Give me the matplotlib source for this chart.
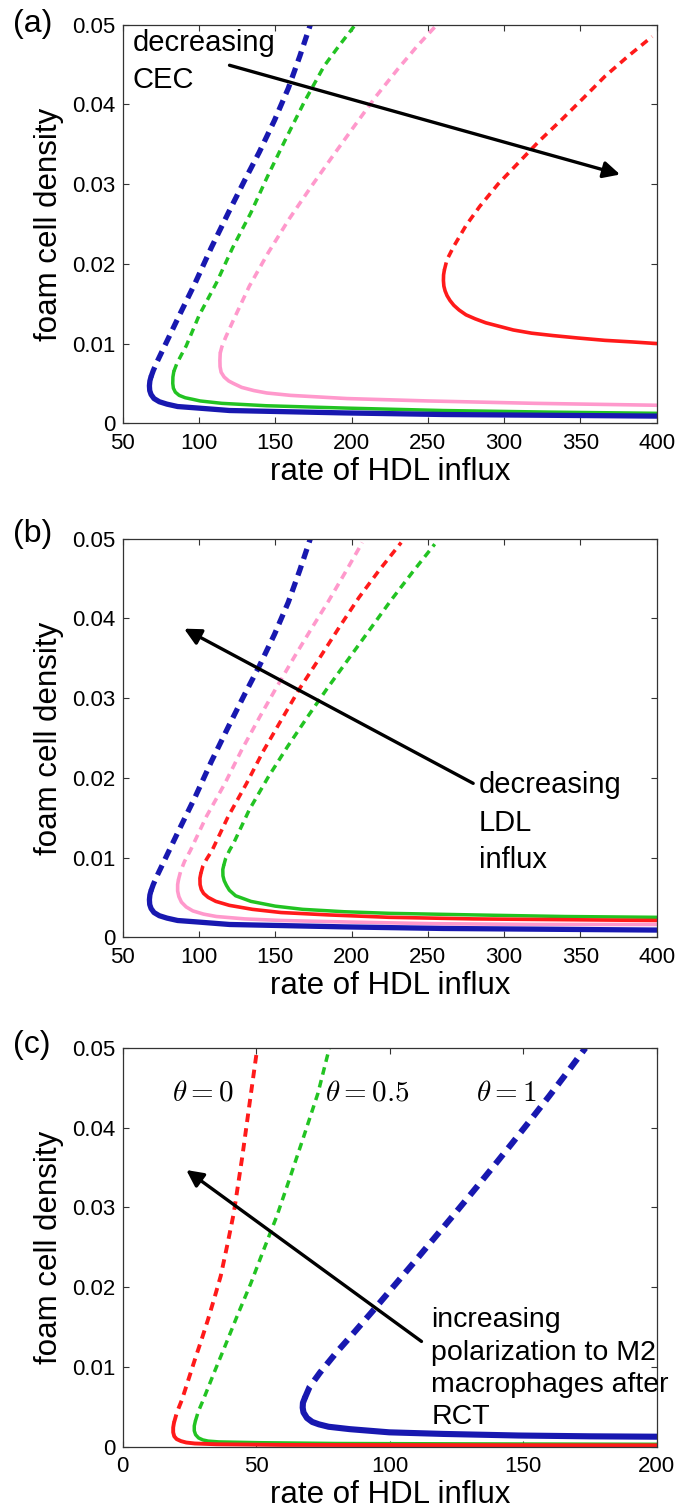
import matplotlib
matplotlib.use("Agg")
import matplotlib.pyplot as plt

plt.rcParams['font.family'] = ['Liberation Sans', 'DejaVu Sans']
plt.rcParams['mathtext.fontset'] = 'cm'

# ---------------- data ----------------
yticks = [0, 0.01, 0.02, 0.03, 0.04, 0.05]
yticklabels = ['0', '0.01', '0.02', '0.03', '0.04', '0.05']
xticks_ab = [50, 100, 150, 200, 250, 300, 350, 400]
xticks_c = [0, 50, 100, 150, 200]

# shared baseline (blue) curve, panels (a) and (b)
blue_up_x = [68.5, 70, 72.5, 77.5, 87, 97.5, 108, 119.5, 130, 139.5, 149.5, 158.5, 166, 173]
blue_up_y = [0.0058, 0.0066, 0.0077, 0.0097, 0.0135, 0.0176, 0.022, 0.0265, 0.0305, 0.034, 0.038, 0.042, 0.046, 0.05]
blue_lo_x = [68.5, 67.8, 67.5, 67.7, 68.6, 70.5, 74, 79, 86, 100, 120, 145, 195, 260, 330, 400]
blue_lo_y = [0.0058, 0.0053, 0.0047, 0.0041, 0.0036, 0.0031, 0.0027, 0.0024, 0.0021, 0.0019, 0.0016, 0.0015, 0.0013, 0.0011, 0.001, 0.0009]

# panel (a)
green_a_up_x = [83.5, 85.5, 88.5, 91.6, 100, 111.4, 122, 134, 145, 156.7, 169, 182, 192, 202.5]
green_a_up_y = [0.0065, 0.0075, 0.0086, 0.0097, 0.0135, 0.0176, 0.022, 0.0264, 0.031, 0.0356, 0.0403, 0.0448, 0.0474, 0.05]
green_a_lo_x = [83.5, 82.9, 82.8, 83.2, 84.5, 87, 91, 96, 100.7, 115, 144, 197, 260, 330, 400]
green_a_lo_y = [0.0065, 0.0058, 0.005, 0.0044, 0.0039, 0.0035, 0.0032, 0.003, 0.0028, 0.0025, 0.0022, 0.0019, 0.0016, 0.0014, 0.00125]
pink_a_up_x = [113.9, 115, 117.5, 122.7, 133, 145.4, 159, 173.6, 188, 201.9, 216, 230.2, 243, 256]
pink_a_up_y = [0.0088, 0.0096, 0.0108, 0.013, 0.0172, 0.0214, 0.0256, 0.0297, 0.0336, 0.0373, 0.041, 0.0444, 0.0473, 0.05]
pink_a_lo_x = [113.9, 113.7, 113.8, 114.5, 116.5, 119.5, 122.5, 128, 136, 144.4, 160, 197, 250, 320, 400]
pink_a_lo_y = [0.0088, 0.0079, 0.0071, 0.0064, 0.0058, 0.0053, 0.005, 0.0045, 0.0041, 0.0038, 0.0035, 0.0031, 0.0028, 0.0025, 0.00226]
red_a_up_x = [260.8, 262.5, 267, 275, 284, 296, 309.5, 323, 337.8, 352, 366, 381, 397]
red_a_up_y = [0.0192, 0.0205, 0.0222, 0.0248, 0.0272, 0.03, 0.0327, 0.0354, 0.0381, 0.0408, 0.0435, 0.046, 0.0485]
red_a_lo_x = [260.8, 260.3, 260.2, 260.5, 261.3, 262.6, 264.5, 267, 270.5, 275, 281, 288, 296, 306, 318, 332, 348, 366, 384, 400]
red_a_lo_y = [0.0192, 0.0186, 0.0179, 0.0172, 0.0166, 0.016, 0.0154, 0.0148, 0.0142, 0.0136, 0.0131, 0.0126, 0.0122, 0.0117, 0.0113, 0.011, 0.0107, 0.0104, 0.0102, 0.01]

# panel (b)
pink_b_up_x = [86.5, 88, 90.5, 94.4, 105, 117, 128, 139.7, 151, 162.3, 174, 185, 196, 207]
pink_b_up_y = [0.0072, 0.0083, 0.0095, 0.0109, 0.0152, 0.0193, 0.0235, 0.0276, 0.0314, 0.0351, 0.0388, 0.0422, 0.0458, 0.0495]
pink_b_lo_x = [86.5, 86, 86, 86.8, 88.5, 91.6, 96, 103, 111.4, 130, 153.8, 200, 252.8, 320, 400]
pink_b_lo_y = [0.0072, 0.0066, 0.0058, 0.0051, 0.0044, 0.0038, 0.0033, 0.0029, 0.0026, 0.0023, 0.0021, 0.0019, 0.0017, 0.0016, 0.0016]
red_b_up_x = [101.2, 102.5, 105, 108.6, 119, 131.2, 142, 153.8, 166, 179.3, 192, 204.8, 218, 232.5]
red_b_up_y = [0.008, 0.0089, 0.0098, 0.0109, 0.0151, 0.0193, 0.0233, 0.0272, 0.0312, 0.0351, 0.0389, 0.0426, 0.046, 0.0495]
red_b_lo_x = [101.2, 100.6, 100.7, 101.5, 103, 106, 111, 119.9, 135, 153.8, 185, 224.6, 280, 340, 400]
red_b_lo_y = [0.008, 0.0074, 0.0066, 0.006, 0.0055, 0.005, 0.0045, 0.004, 0.0035, 0.0031, 0.0028, 0.0025, 0.0023, 0.0022, 0.0021]
green_b_up_x = [116.2, 117.5, 120, 122.7, 133, 145.4, 158, 171, 184, 198, 212, 226, 240, 254.5]
green_b_up_y = [0.009, 0.0099, 0.0109, 0.0118, 0.016, 0.0201, 0.0239, 0.0276, 0.0312, 0.0349, 0.0386, 0.0423, 0.0458, 0.0493]
green_b_lo_x = [116.2, 115.6, 115.7, 116.5, 118, 119.9, 124, 134, 150, 168, 195, 224.6, 280, 340, 400]
green_b_lo_y = [0.009, 0.0085, 0.0077, 0.0071, 0.0065, 0.0059, 0.0052, 0.0045, 0.0039, 0.0035, 0.0032, 0.003, 0.0028, 0.0026, 0.0025]

# panel (c)
red_c_up_x = [19.2, 20.3, 22.2, 24.6, 27, 29.5, 31.9, 34.3, 36.7, 39.3, 41.6, 44.8, 47.7, 50.4]
red_c_up_y = [0.003, 0.0043, 0.0059, 0.0084, 0.0109, 0.0134, 0.0159, 0.0186, 0.0214, 0.0255, 0.0293, 0.0364, 0.0435, 0.05]
red_c_lo_x = [19.2, 18.9, 18.9, 19.3, 20.2, 21.8, 23.8, 27, 35.1, 60, 100, 200]
red_c_lo_y = [0.003, 0.0024, 0.0018, 0.0013, 0.00095, 0.0007, 0.00052, 0.0004, 0.0003, 0.00022, 0.0002, 0.00017]
green_c_up_x = [27.2, 28.3, 30.2, 34, 38.3, 43, 48, 52.8, 57.7, 62.6, 67.4, 73.1, 77.4]
green_c_up_y = [0.0032, 0.0044, 0.0059, 0.0091, 0.0126, 0.0165, 0.0205, 0.0247, 0.0289, 0.0337, 0.0385, 0.0443, 0.05]
green_c_lo_x = [27.2, 26.8, 26.8, 27.3, 28.4, 30, 32, 36, 51.3, 80, 130, 200]
green_c_lo_y = [0.0032, 0.0026, 0.002, 0.0015, 0.0011, 0.00085, 0.0007, 0.0006, 0.0005, 0.0004, 0.00035, 0.0003]
blue_c_up_x = [68.2, 70, 73.9, 80, 86.6, 93.6, 101.2, 108.8, 116.3, 123.8, 131.2, 138.5, 145.7, 152.8, 159.8, 166.6, 173.3]
blue_c_up_y = [0.0061, 0.0075, 0.0093, 0.0118, 0.0143, 0.017, 0.02, 0.023, 0.026, 0.029, 0.032, 0.035, 0.038, 0.041, 0.044, 0.047, 0.05]
blue_c_lo_x = [68.2, 67.5, 67.4, 67.7, 69, 71, 73.5, 77.1, 85, 99.8, 120, 148.3, 175, 200]
blue_c_lo_y = [0.0061, 0.0055, 0.0049, 0.0043, 0.0036, 0.0031, 0.0028, 0.0025, 0.0022, 0.0018, 0.0016, 0.0014, 0.0013, 0.00125]

BLUE = '#1818B0'
GREEN = '#22C322'
PINK = '#FF99CC'
RED = '#FF1A1A'

# ---------------- figure ----------------
fig = plt.figure(figsize=(6.78, 15.09), dpi=100)
L, W, H = 0.181, 0.7876, 0.2642
ax_a = fig.add_axes([L, 0.7195, W, H])
ax_b = fig.add_axes([L, 0.3789, W, H])
ax_c = fig.add_axes([L, 0.0413, W, H])


def branch(ax, ux, uy, lx, ly, color, lw, dashes):
    ax.plot(ux, uy, color=color, lw=lw, dashes=dashes, solid_capstyle='butt',
            dash_capstyle='butt')
    ax.plot(lx, ly, color=color, lw=lw, solid_capstyle='round',
            solid_joinstyle='round')


def style(ax, xticks, xlim):
    ax.set_xlim(*xlim)
    ax.set_ylim(0, 0.05)
    ax.set_xticks(xticks)
    ax.set_yticks(yticks)
    ax.set_yticklabels(yticklabels)
    ax.tick_params(direction='in', top=True, right=True, length=4, width=0.8,
                   labelsize=16, color='#333333')
    ax.tick_params(axis='x', pad=7)
    ax.tick_params(axis='y', pad=5)
    for s in ax.spines.values():
        s.set_linewidth(0.9)
        s.set_color('#333333')
    ax.set_xlabel('rate of HDL influx', fontsize=22.5, labelpad=2)
    ax.set_ylabel('foam cell density', fontsize=22.5, labelpad=6)


thin = (2.2, 1.6)
thick = (2.0, 1.3)
ARROW = dict(arrowstyle='-|>', color='k', lw=2.4, mutation_scale=25,
             shrinkA=0, shrinkB=0)

# (a)
branch(ax_a, red_a_up_x, red_a_up_y, red_a_lo_x, red_a_lo_y, RED, 2.6, thin)
branch(ax_a, pink_a_up_x, pink_a_up_y, pink_a_lo_x, pink_a_lo_y, PINK, 2.6, thin)
branch(ax_a, green_a_up_x, green_a_up_y, green_a_lo_x, green_a_lo_y, GREEN, 2.5, thin)
branch(ax_a, blue_up_x, blue_up_y, blue_lo_x, blue_lo_y, BLUE, 3.8, thick)
style(ax_a, xticks_ab, (50, 400))
ax_a.annotate('', xy=(376, 0.0312), xytext=(120, 0.0449), arrowprops=ARROW)
ax_a.text(56.5, 0.0495, 'decreasing\nCEC', fontsize=21, va='top', ha='left',
          linespacing=1.42)

# (b)
branch(ax_b, green_b_up_x, green_b_up_y, green_b_lo_x, green_b_lo_y, GREEN, 2.5, thin)
branch(ax_b, red_b_up_x, red_b_up_y, red_b_lo_x, red_b_lo_y, RED, 2.6, thin)
branch(ax_b, pink_b_up_x, pink_b_up_y, pink_b_lo_x, pink_b_lo_y, PINK, 2.6, thin)
branch(ax_b, blue_up_x, blue_up_y, blue_lo_x, blue_lo_y, BLUE, 3.8, thick)
style(ax_b, xticks_ab, (50, 400))
ax_b.annotate('', xy=(90.2, 0.0387), xytext=(279.7, 0.0193), arrowprops=ARROW)
ax_b.text(283.4, 0.0208, 'decreasing\nLDL\ninflux', fontsize=21, va='top',
          ha='left', linespacing=1.42)

# (c)
branch(ax_c, green_c_up_x, green_c_up_y, green_c_lo_x, green_c_lo_y, GREEN, 2.5, thin)
branch(ax_c, red_c_up_x, red_c_up_y, red_c_lo_x, red_c_lo_y, RED, 2.8, thin)
branch(ax_c, blue_c_up_x, blue_c_up_y, blue_c_lo_x, blue_c_lo_y, BLUE, 4.4, thick)
style(ax_c, xticks_c, (0, 200))
ax_c.annotate('', xy=(23.8, 0.0347), xytext=(111.9, 0.0132), arrowprops=ARROW)
ax_c.text(115.6, 0.0175, 'increasing\npolarization to M2\nmacrophages after\nRCT',
          fontsize=20.5, va='top', ha='left', linespacing=1.32)
for tx, lab in [(18.4, r'$\theta=0$'), (75.8, r'$\theta=0.5$'), (132.4, r'$\theta=1$')]:
    ax_c.text(tx, 0.0444, lab, fontsize=21, va='center', ha='left')

# panel letters
for ypix, lab in [(24, '(a)'), (534, '(b)'), (1045, '(c)')]:
    fig.text(13 / 678, 1 - ypix / 1509, lab, fontsize=23, va='center', ha='left')

fig.savefig('out.png', dpi=100)
